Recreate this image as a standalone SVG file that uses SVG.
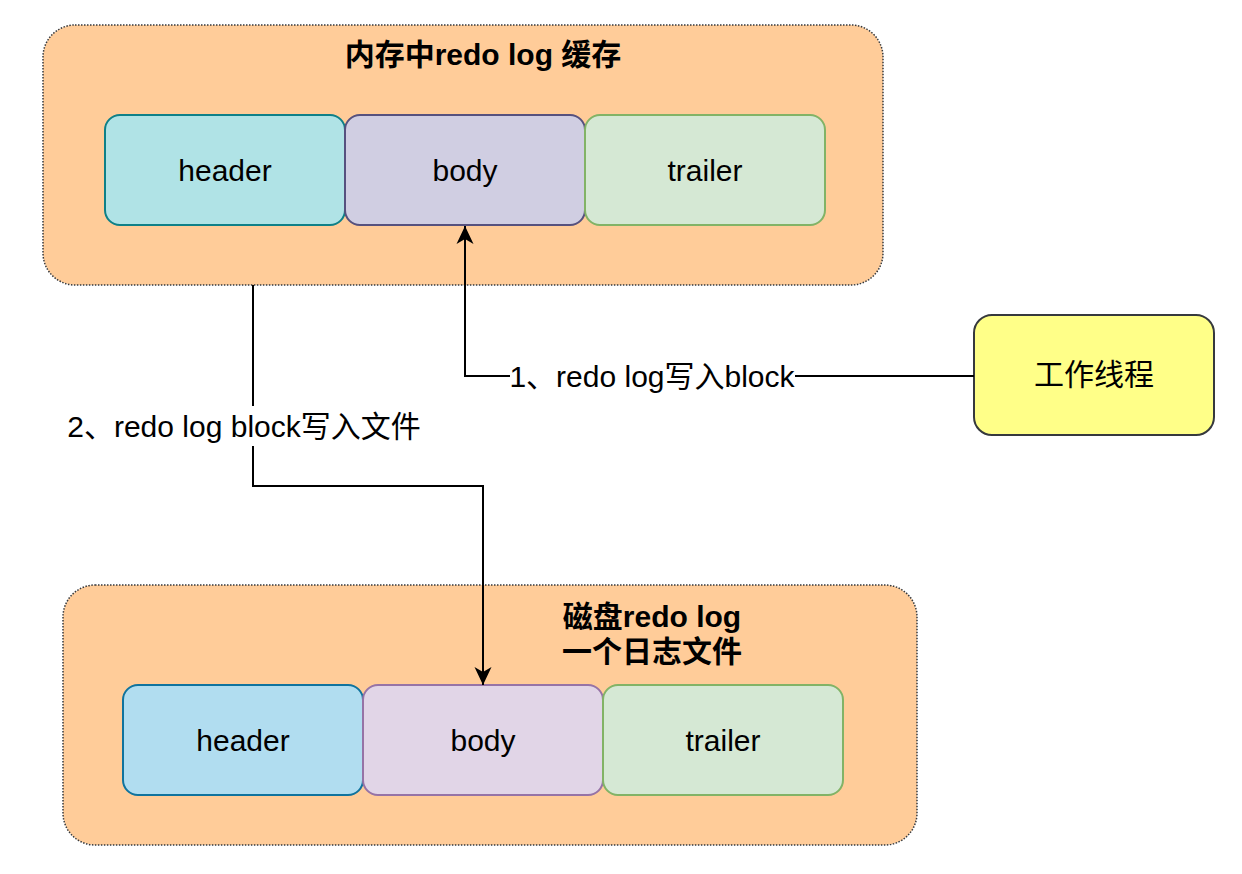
<svg xmlns="http://www.w3.org/2000/svg" width="1242" height="874" viewBox="0 0 1242 874">
<style>
text{font-family:"Liberation Sans","Noto Sans CJK SC",sans-serif;font-size:30px;fill:#000;text-anchor:middle;dominant-baseline:central}
.b{font-weight:bold}
.cont{fill:#FFCC99;stroke:#36393d;stroke-width:1.5;stroke-dasharray:1.5 1.5}
.line{fill:none;stroke:#000;stroke-width:2}
</style>
<defs>
<marker id="arr" markerWidth="18" markerHeight="18" refX="18" refY="9" orient="auto" markerUnits="userSpaceOnUse" viewBox="0 0 18 18">
<path d="M0,0.5 L18,9 L0,17.5 L5,9 Z" fill="#000"/>
</marker>
</defs>
<rect width="1242" height="874" fill="#fff"/>
<g id="mem-buffer">
<rect class="cont" x="43" y="25" width="840" height="260" rx="32"/>
<text class="b" x="483" y="54">内存中redo log 缓存</text>
</g>
<g id="mem-header"><rect x="105" y="115" width="240" height="110" rx="15" fill="#B0E3E6" stroke="#0e8088" stroke-width="2"/><text x="225" y="170">header</text></g>
<g id="mem-body"><rect x="345" y="115" width="240" height="110" rx="15" fill="#D0CEE2" stroke="#56517e" stroke-width="2"/><text x="465" y="170">body</text></g>
<g id="mem-trailer"><rect x="585" y="115" width="240" height="110" rx="15" fill="#D5E8D4" stroke="#82b366" stroke-width="2"/><text x="705" y="170">trailer</text></g>
<g id="disk-log">
<rect class="cont" x="63" y="585" width="854" height="260" rx="32"/>
<text class="b" x="652" y="616">磁盘redo log</text>
<text class="b" x="652" y="651">一个日志文件</text>
</g>
<g id="disk-header"><rect x="123" y="685" width="240" height="110" rx="15" fill="#B1DDF0" stroke="#10739e" stroke-width="2"/><text x="243" y="740">header</text></g>
<g id="disk-body"><rect x="363" y="685" width="240" height="110" rx="15" fill="#E1D5E7" stroke="#9673a6" stroke-width="2"/><text x="483" y="740">body</text></g>
<g id="disk-trailer"><rect x="603" y="685" width="240" height="110" rx="15" fill="#D5E8D4" stroke="#82b366" stroke-width="2"/><text x="723" y="740">trailer</text></g>
<g id="worker"><rect x="974" y="315" width="240" height="120" rx="18" fill="#FFFF88" stroke="#36393d" stroke-width="2"/><text x="1094" y="374">工作线程</text></g>
<g id="connectors">
<path class="line" d="M974,376 H465 V226" marker-end="url(#arr)"/>
<rect x="510" y="360" width="285" height="34" fill="#fff"/>
<text x="652" y="376">1、redo log写入block</text>
<path class="line" d="M253,285 V486 H483 V685" marker-end="url(#arr)"/>
<rect x="66" y="406" width="356" height="40" fill="#fff"/>
<text x="244" y="426">2、redo log block写入文件</text>
</g>
</svg>
